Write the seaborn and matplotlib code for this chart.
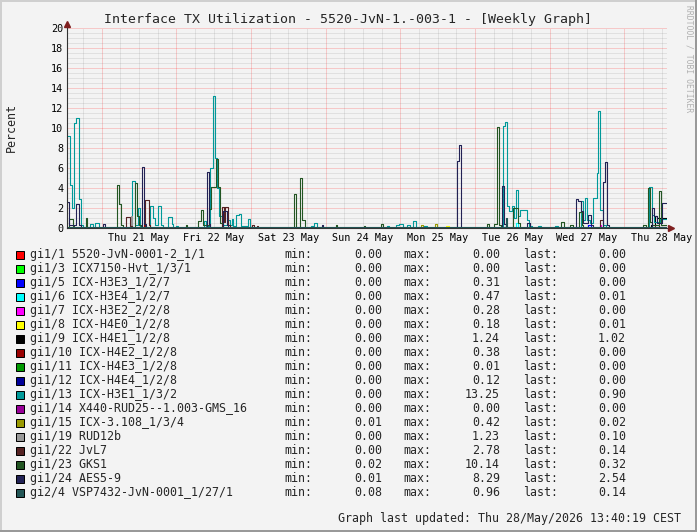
import numpy as np
import pandas as pd
import seaborn as sns
import matplotlib.pyplot as plt
from matplotlib.patches import Rectangle

W, H = 697, 532

# time axis: hours since Wed 20 May 00:00, graph spans ~12:52 Wed .. 13:40 Thu 28
T0, T1 = 12.87, 205.67
day_labels = ["Thu 21 May", "Fri 22 May", "Sat 23 May", "Sun 24 May",
              "Mon 25 May", "Tue 26 May", "Wed 27 May", "Thu 28 May"]

ports = ["gi1/1 5520-JvN-0001-2_1/1", "gi1/3 ICX7150-Hvt_1/3/1", "gi1/5 ICX-H3E3_1/2/7",
         "gi1/6 ICX-H3E4_1/2/7", "gi1/7 ICX-H3E2_2/2/8", "gi1/8 ICX-H4E0_1/2/8",
         "gi1/9 ICX-H4E1_1/2/8", "gi1/10 ICX-H4E2_1/2/8", "gi1/11 ICX-H4E3_1/2/8",
         "gi1/12 ICX-H4E4_1/2/8", "gi1/13 ICX-H3E1_1/3/2", "gi1/14 X440-RUD25--1.003-GMS_16",
         "gi1/15 ICX-3.108_1/3/4", "gi1/19 RUD12b", "gi1/22 JvL7", "gi1/23 GKS1",
         "gi1/24 AES5-9", "gi2/4 VSP7432-JvN-0001_1/27/1"]
colors = ["#FF0000", "#00FF00", "#0000FF", "#00FFFF", "#FF00FF", "#FFFF00", "#000000",
          "#990000", "#009900", "#000099", "#009999", "#990099", "#999900", "#999999",
          "#552222", "#225522", "#222255", "#225555"]
mins = ["0.00", "0.00", "0.00", "0.00", "0.00", "0.00", "0.00", "0.00", "0.00",
        "0.00", "0.00", "0.00", "0.01", "0.00", "0.00", "0.02", "0.01", "0.08"]
maxs = ["0.00", "0.00", "0.31", "0.47", "0.28", "0.18", "1.24", "0.38", "0.01",
        "0.12", "13.25", "0.00", "0.42", "1.23", "2.78", "10.14", "8.29", "0.96"]
lasts = ["0.00", "0.00", "0.00", "0.01", "0.00", "0.01", "1.02", "0.00", "0.00",
         "0.00", "0.90", "0.00", "0.02", "0.10", "0.14", "0.32", "2.54", "0.14"]

# step series: (hour, percent) -> value holds until the next entry
gi1_1 = [(T0, 0.0)]
gi1_3 = [(T0, 0.0)]
gi1_5 = [(T0, 0.0), (180.3, 0.31), (181.2, 0.0)]
gi1_6 = [(T0, 0.0), (157.1, 0.47), (157.9, 0.0), (203.0, 0.01)]
gi1_7 = [(T0, 0.0), (184.0, 0.28), (184.5, 0.0)]
gi1_8 = [(T0, 0.0), (134.6, 0.18), (135.7, 0.0), (203.0, 0.01)]
gi1_9 = [(T0, 0.0), (200.5, 0.3), (201.8, 1.24), (202.6, 1.02)]
gi1_10 = [(T0, 0.0), (37.6, 0.38), (38.0, 0.0)]
gi1_11 = [(T0, 0.0), (150.0, 0.01), (151.0, 0.0)]
gi1_12 = [(T0, 0.0), (153.3, 0.12), (154.0, 0.0)]
gi1_13 = [(T0, 9.2), (13.8, 4.3), (14.45, 2.0), (15.1, 10.5), (15.75, 11.0), (16.6, 2.9),
          (17.25, 0.3), (18.0, 0.0), (20.25, 0.4), (21.1, 0.0), (21.95, 0.5), (23.05, 0.0),
          (33.6, 4.7), (34.85, 0.3), (35.55, 2.0), (36.3, 0.2), (37.0, 0.0),
          (39.5, 2.2), (40.5, 1.0), (41.1, 0.3), (42.2, 2.2), (43.2, 0.3), (43.7, 0.0),
          (45.3, 1.1), (46.5, 0.4), (47.0, 0.0), (47.9, 0.2), (48.5, 0.0),
          (56.9, 0.7), (57.5, 0.2), (58.8, 6.0), (59.85, 13.25), (60.55, 7.0), (61.15, 4.0),
          (61.7, 1.2), (62.65, 0.3), (64.6, 0.8), (65.2, 0.3), (65.75, 0.9), (66.3, 0.2),
          (67.05, 1.3), (68.1, 1.45), (68.85, 0.2), (71.1, 0.9), (71.8, 0.1), (72.3, 0.0),
          (91.25, 0.2), (92.2, 0.5), (93.1, 0.0),
          (115.55, 0.2), (116.4, 0.0), (118.55, 0.3), (119.4, 0.4), (120.7, 0.1), (122.0, 0.3),
          (123.05, 0.0), (124.1, 0.7), (124.9, 0.0), (127.3, 0.2), (128.4, 0.0),
          (153.1, 10.2), (153.6, 10.6), (154.4, 2.2), (154.9, 1.7), (156.0, 2.2), (156.5, 1.0),
          (157.1, 3.8), (157.85, 1.2), (158.4, 1.8), (160.55, 0.8), (161.3, 0.2), (162.25, 0.0),
          (164.2, 0.2), (165.1, 0.0), (169.65, 0.2), (170.7, 0.0),
          (177.9, 2.7), (178.7, 0.8), (179.25, 3.0), (180.0, 0.8), (180.8, 0.5), (181.95, 3.0),
          (183.05, 5.5), (183.55, 11.7), (184.3, 1.8), (184.95, 0.3), (186.0, 0.0),
          (199.9, 4.1), (200.7, 1.3), (201.45, 0.6), (203.4, 0.9)]
gi1_14 = [(T0, 0.0)]
gi1_15 = [(T0, 0.01), (126.6, 0.3), (127.3, 0.01), (131.1, 0.42), (131.8, 0.01), (203.0, 0.02)]
gi1_19 = [(T0, 0.0), (33.3, 1.23), (33.75, 0.0), (202.5, 0.10)]
gi1_22 = [(T0, 0.0), (31.8, 1.1), (33.1, 0.2), (33.75, 0.0), (38.0, 2.78), (39.1, 0.3),
          (39.5, 0.0), (62.55, 2.1), (63.3, 0.6), (63.6, 2.1), (64.6, 0.3), (65.2, 0.0),
          (72.3, 0.3), (72.95, 0.0), (73.8, 0.2), (74.3, 0.0), (184.3, 0.8), (185.0, 0.0),
          (201.8, 0.3), (203.0, 0.14)]
gi1_23 = [(T0, 0.02), (13.5, 0.9), (14.7, 0.2), (15.1, 0.02), (18.95, 1.0), (19.4, 0.02),
          (28.8, 4.3), (29.65, 2.4), (30.3, 0.3), (30.85, 0.02), (34.85, 4.5), (35.5, 1.2),
          (36.0, 0.3), (36.6, 0.02), (51.1, 0.3), (51.55, 0.02), (54.95, 0.7), (55.9, 1.8),
          (56.55, 0.3), (58.5, 1.9), (59.2, 4.1), (60.8, 6.9), (61.45, 4.1), (62.1, 0.5),
          (63.0, 0.02), (85.9, 3.4), (86.4, 0.02), (87.7, 5.0), (88.45, 0.8), (89.4, 0.02),
          (99.3, 0.3), (99.7, 0.02), (108.3, 0.2), (108.7, 0.02), (113.75, 0.4), (114.3, 0.02),
          (147.7, 0.4), (148.35, 0.02), (150.05, 0.4), (150.9, 10.14), (151.75, 0.3),
          (152.3, 0.02), (156.2, 2.0), (157.85, 0.5), (158.4, 0.02),
          (171.7, 0.6), (172.45, 0.02), (174.4, 0.3), (175.35, 0.02), (177.55, 1.6),
          (178.2, 0.3), (178.8, 0.02), (198.0, 0.3), (198.9, 0.02), (199.45, 4.0),
          (200.2, 0.6), (200.8, 0.3), (203.15, 3.7), (203.7, 0.32)]
gi1_24 = [(T0, 2.6), (13.5, 0.3), (15.75, 2.4), (16.6, 0.3), (17.25, 0.01), (24.4, 0.4),
          (25.05, 0.01), (36.95, 6.1), (37.6, 0.4), (38.2, 0.01),
          (57.75, 5.6), (58.4, 0.4), (58.8, 0.01), (63.0, 1.7), (64.15, 0.3), (64.6, 0.01),
          (94.7, 0.3), (95.2, 0.01), (138.25, 6.7), (138.7, 8.29), (139.35, 0.01),
          (152.7, 4.2), (153.25, 0.4), (153.9, 0.01), (160.55, 0.5), (161.6, 0.01),
          (176.4, 2.9), (177.15, 2.7), (177.9, 1.7), (178.65, 0.5), (180.3, 1.3),
          (181.2, 0.3), (182.0, 0.01), (185.1, 4.6), (185.65, 6.6), (186.3, 0.3),
          (187.0, 0.01), (201.0, 2.0), (201.65, 1.2), (202.4, 0.5), (204.0, 2.54)]
gi2_4 = [(T0, 0.1), (153.9, 0.96), (154.4, 0.1), (203.0, 0.14)]

series = [gi1_1, gi1_3, gi1_5, gi1_6, gi1_7, gi1_8, gi1_9, gi1_10, gi1_11, gi1_12,
          gi1_13, gi1_14, gi1_15, gi1_19, gi1_22, gi1_23, gi1_24, gi2_4]

rows = []
for port, steps in zip(ports, series):
    for t, v in steps + [(T1, steps[-1][1])]:
        rows.append((port, t, v))
df = pd.DataFrame(rows, columns=["port", "hour", "percent"])

sns.set_style("white")
plt.rcParams["font.family"] = "DejaVu Sans Mono"

bg = "#f3f3f3"
axis_col = "#333333"
fig = plt.figure(figsize=(W / 100, H / 100), dpi=100, facecolor=bg)
ax = fig.add_axes([67 / W, 304 / H, 600 / W, 200 / H])
ax.set_facecolor(bg)

sns.lineplot(data=df, x="hour", y="percent", hue="port", hue_order=ports,
             palette=dict(zip(ports, colors)), estimator=None, errorbar=None,
             drawstyle="steps-post", linewidth=0.8, legend=False, ax=ax)

ax.set_xlim(T0, T1)
ax.set_ylim(0, 20)

midnights = np.arange(24, T1, 24)
six_h = [t for t in np.arange(18, T1, 6) if t % 24 != 0]
ax.set_xticks(midnights, [""] * len(midnights))
ax.set_xticks(six_h, [day_labels[int(t // 24) - 1] if t % 24 == 12 else "" for t in six_h],
              minor=True)
ax.set_yticks(np.arange(0, 21, 2))
ax.set_yticks(np.arange(0, 20.01, 0.5), minor=True)
ax.set_xlabel("")
ax.set_ylabel("")

ax.set_axisbelow(True)
ax.grid(which="major", color="#ff0000", alpha=0.35, linestyle=(0, (1, 1)), linewidth=0.72)
ax.grid(which="minor", color="#808080", alpha=0.33, linestyle=(0, (1, 1)), linewidth=0.72)

for s in ["top", "right"]:
    ax.spines[s].set_visible(False)
for s in ["left", "bottom"]:
    ax.spines[s].set_color(axis_col)
    ax.spines[s].set_linewidth(0.8)

ax.tick_params(axis="both", which="both", colors=axis_col, labelcolor="black",
               direction="inout", labelsize=7.3)
ax.tick_params(axis="both", which="major", length=2.9, width=0.72)
ax.tick_params(axis="both", which="minor", length=1.4, width=0.72)
ax.tick_params(axis="y", which="major", pad=1.2)
ax.tick_params(axis="x", which="minor", pad=2.9)

# arrows at axis ends
ax.plot(1.006, 0, marker=">", ms=4.5, color="#7f1f1f", transform=ax.transAxes, clip_on=False)
ax.plot(0, 1.02, marker="^", ms=4.5, color="#7f1f1f", transform=ax.transAxes, clip_on=False)

fig.text(347.5 / W, 1 - 23.5 / H,
         "Interface TX Utilization - 5520-JvN-1.-003-1 - [Weekly Graph]",
         ha="center", va="baseline", fontsize=9.5)
fig.text(11 / W, 1 - 128 / H, "Percent", rotation=90, ha="center", va="center", fontsize=8.4)
fig.text(689 / W, 1 - 5 / H, "RRDTOOL / TOBI OETIKER", rotation=270, ha="center", va="top",
         fontsize=5.8, color="#b0b0b0")

for i, (port, col, lo, hi, la) in enumerate(zip(ports, colors, mins, maxs, lasts)):
    yb = 1 - (257.7 + 14 * i) / H
    fig.patches.append(Rectangle((15.5 / W, 1 - (259 + 14 * i) / H), 8.5 / W, 8.5 / H,
                                 facecolor=col, edgecolor="black", linewidth=0.72,
                                 transform=fig.transFigure, figure=fig))
    fig.text(30 / W, yb, port, va="baseline", fontsize=8.4)
    fig.text(284 / W, yb, "min:", va="baseline", fontsize=8.4)
    fig.text(382 / W, yb, lo, ha="right", va="baseline", fontsize=8.4)
    fig.text(403 / W, yb, "max:", va="baseline", fontsize=8.4)
    fig.text(500 / W, yb, hi, ha="right", va="baseline", fontsize=8.4)
    fig.text(523 / W, yb, "last:", va="baseline", fontsize=8.4)
    fig.text(626 / W, yb, la, ha="right", va="baseline", fontsize=8.4)

fig.text(681 / W, 1 - 521.7 / H, "Graph last updated: Thu 28/May/2026 13:40:19 CEST",
         ha="right", va="baseline", fontsize=8.4)

# 3d frame like rrdtool's shade
for (x, y, w, h, c) in [(0, 1 - 2 / H, 1, 2 / H, "#cfcfcf"), (0, 0, 2 / W, 1, "#cfcfcf"),
                        (0, 0, 1, 2 / H, "#999999"), (1 - 2 / W, 0, 2 / W, 1, "#999999")]:
    fig.patches.append(Rectangle((x, y), w, h, facecolor=c, edgecolor="none",
                                 transform=fig.transFigure, figure=fig))

fig.savefig("out.png", dpi=100, facecolor=bg)
